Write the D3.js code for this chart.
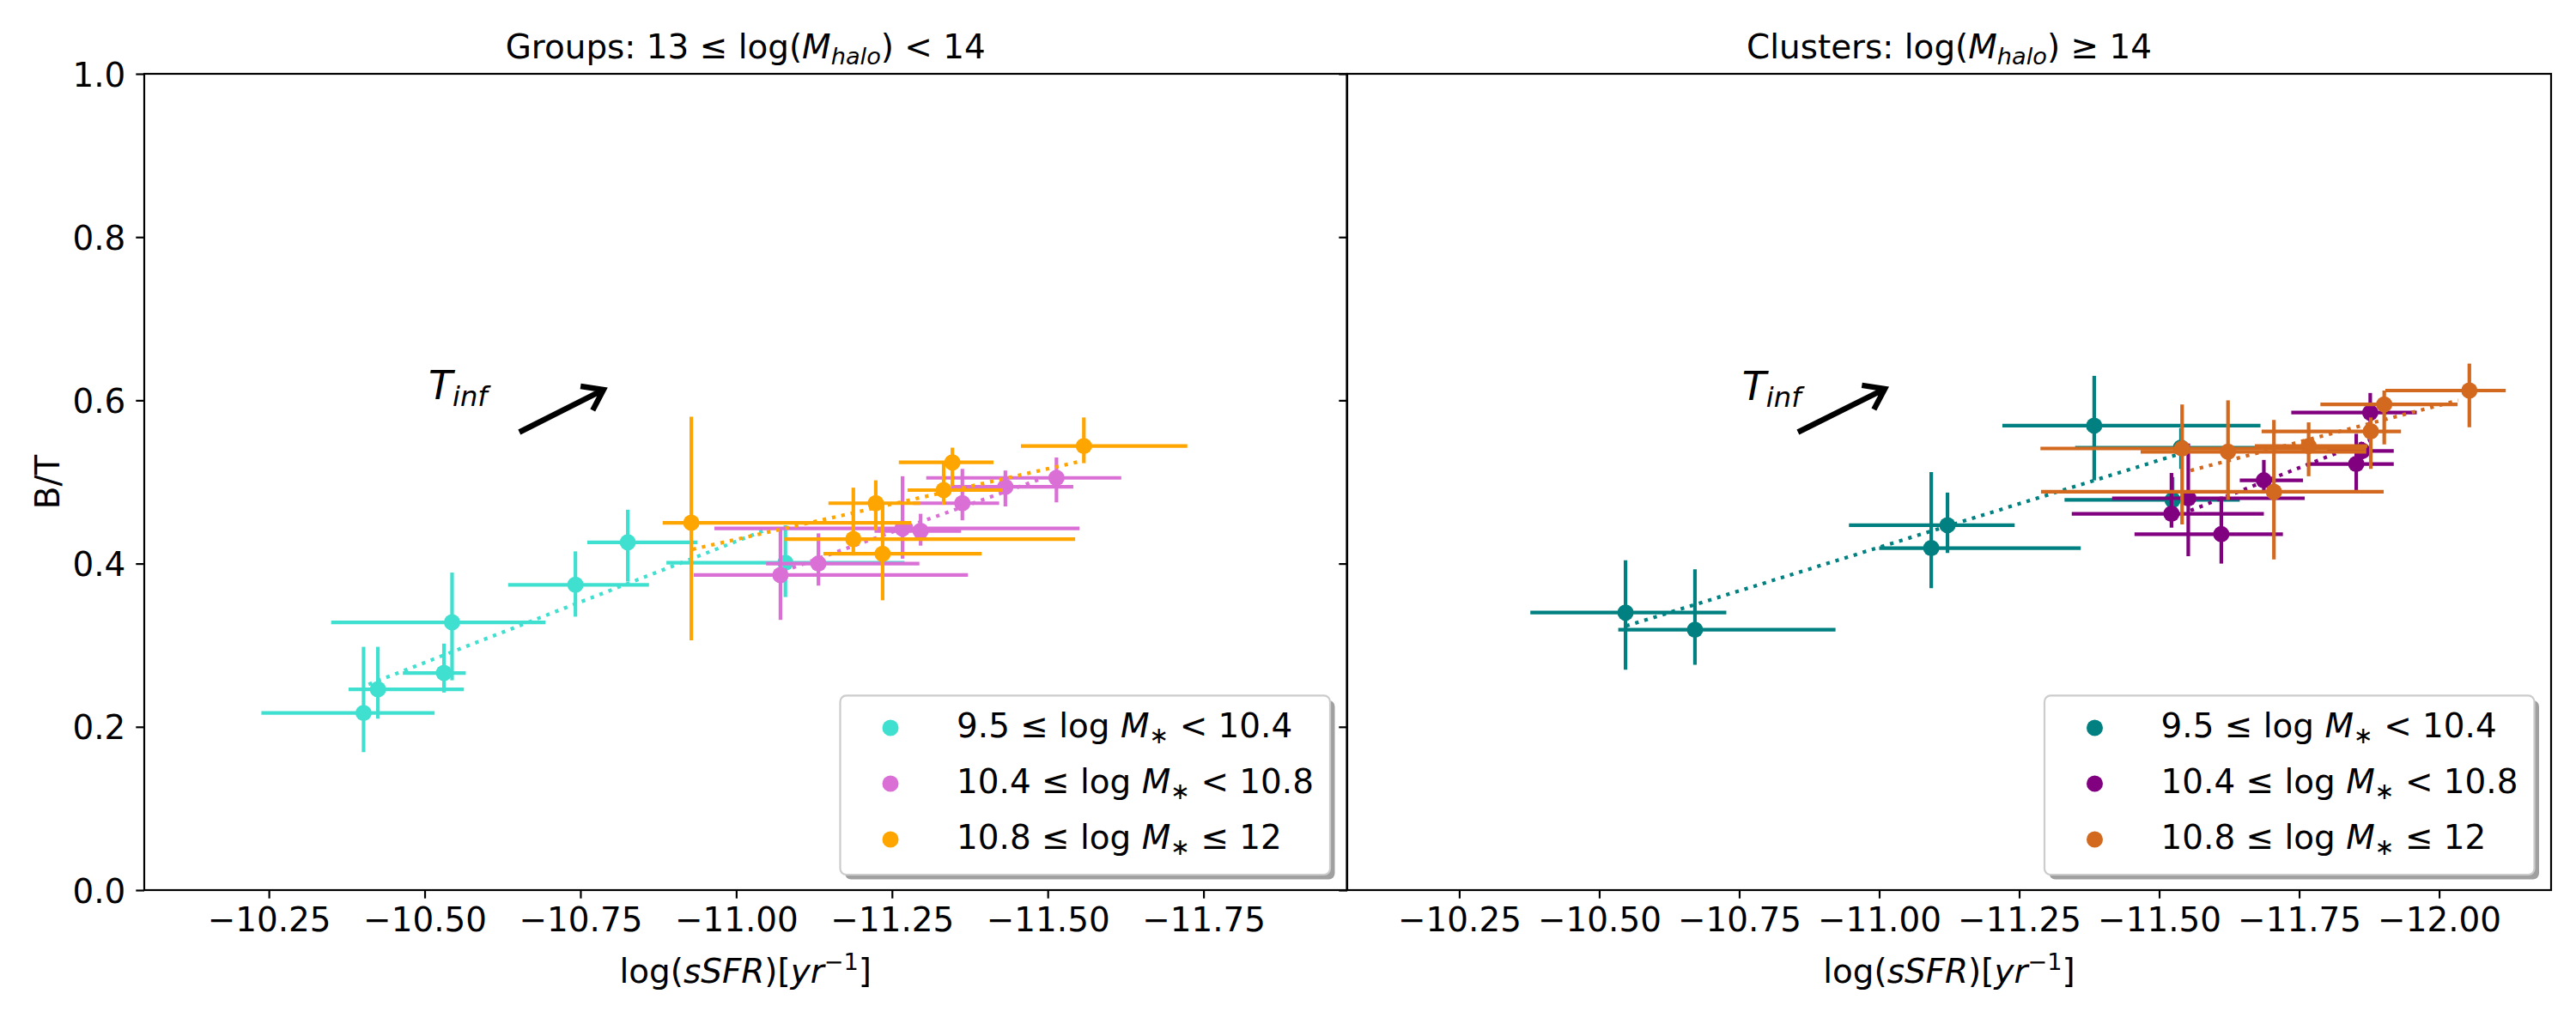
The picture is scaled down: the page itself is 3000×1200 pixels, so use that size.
<!DOCTYPE html>
<html>
<head>
<meta charset="utf-8">
<script src="https://cdn.jsdelivr.net/npm/d3@7"></script>
<style>
body { margin: 0; background: #fff; }
text { font-family: "DejaVu Sans", sans-serif; fill: #000; }
</style>
</head>
<body>
<svg id="fig" width="3000" height="1200"></svg>
<script>
// values
// each row: [x, y, x_left, x_right, y_low, y_high]
var groupsLow = [
  [-10.402, 0.217, -10.238, -10.516, 0.169, 0.298],
  [-10.425, 0.246, -10.378, -10.563, 0.210, 0.298],
  [-10.531, 0.266, -10.465, -10.566, 0.242, 0.302],
  [-10.544, 0.328, -10.350, -10.694, 0.257, 0.389],
  [-10.742, 0.374, -10.634, -10.860, 0.335, 0.415],
  [-10.826, 0.426, -10.761, -10.938, 0.378, 0.466],
  [-11.079, 0.401, -10.888, -11.270, 0.359, 0.447]
];
var groupsMid = [
  [-11.071, 0.386, -10.932, -11.372, 0.331, 0.444],
  [-11.132, 0.400, -11.048, -11.294, 0.373, 0.437],
  [-11.267, 0.443, -10.965, -11.551, 0.406, 0.507],
  [-11.296, 0.440, -11.222, -11.361, 0.422, 0.461],
  [-11.363, 0.474, -11.284, -11.422, 0.453, 0.516],
  [-11.432, 0.494, -11.345, -11.541, 0.470, 0.514],
  [-11.514, 0.505, -11.305, -11.618, 0.475, 0.530]
];
var groupsHigh = [
  [-10.928, 0.450, -10.882, -11.281, 0.306, 0.580],
  [-11.188, 0.430, -11.078, -11.544, 0.410, 0.493],
  [-11.224, 0.474, -11.148, -11.296, 0.441, 0.502],
  [-11.235, 0.412, -11.140, -11.394, 0.355, 0.473],
  [-11.333, 0.490, -11.275, -11.428, 0.472, 0.523],
  [-11.347, 0.524, -11.261, -11.413, 0.495, 0.542],
  [-11.558, 0.544, -11.457, -11.724, 0.523, 0.579]
];
var clustersLow = [
  [-10.547, 0.340, -10.377, -10.727, 0.270, 0.404],
  [-10.671, 0.319, -10.534, -10.922, 0.276, 0.393],
  [-11.093, 0.419, -11.000, -11.360, 0.370, 0.512],
  [-11.122, 0.447, -10.946, -11.242, 0.413, 0.487],
  [-11.384, 0.569, -11.220, -11.681, 0.502, 0.630],
  [-11.539, 0.542, -11.350, -11.800, 0.516, 0.566],
  [-11.524, 0.478, -11.331, -11.644, 0.467, 0.506]
];
var clustersMid = [
  [-11.522, 0.461, -11.344, -11.687, 0.444, 0.511],
  [-11.552, 0.480, -11.416, -11.760, 0.409, 0.547],
  [-11.611, 0.436, -11.456, -11.721, 0.400, 0.482],
  [-11.687, 0.502, -11.644, -11.757, 0.490, 0.527],
  [-11.852, 0.522, -11.768, -11.919, 0.490, 0.559],
  [-11.863, 0.538, -11.800, -11.919, 0.528, 0.549],
  [-11.877, 0.585, -11.736, -11.960, 0.561, 0.609]
];
var clustersHigh = [
  [-11.541, 0.541, -11.288, -11.870, 0.448, 0.595],
  [-11.623, 0.537, -11.467, -11.870, 0.478, 0.600],
  [-11.705, 0.488, -11.289, -11.901, 0.405, 0.576],
  [-11.767, 0.544, -11.671, -11.872, 0.507, 0.573],
  [-11.878, 0.562, -11.683, -11.932, 0.516, 0.579],
  [-11.902, 0.595, -11.788, -12.033, 0.546, 0.612],
  [-12.054, 0.612, -11.904, -12.119, 0.567, 0.645]
];

// dotted linear fits: [start, end]
var groupsLowFit = [[-10.41, 0.252], [-11.05, 0.442]];
var groupsMidFit = [[-11.076, 0.391], [-11.49, 0.504]];
var groupsHighFit = [[-10.93, 0.4175], [-11.557, 0.526]];
var clustersLowFit = [[-10.548, 0.3235], [-11.53, 0.533]];
var clustersMidFit = [[-11.556, 0.465], [-11.875, 0.551]];
var clustersHighFit = [[-11.556, 0.514], [-12.034, 0.600]];

// T_inf arrows [tail, tip] and label position
var groupsArrow = [[-10.652, 0.561], [-10.787, 0.613]];
var clustersArrow = [[-10.855, 0.561], [-11.010, 0.614]];
var groupsTinf = [-10.506, 0.601];
var clustersTinf = [-10.755, 0.600];

var groupsXTicks = [-10.25, -10.5, -10.75, -11.0, -11.25, -11.5, -11.75];
var clustersXTicks = [-10.25, -10.5, -10.75, -11.0, -11.25, -11.5, -11.75, -12.0];
var yTicks = [0, 0.2, 0.4, 0.6, 0.8, 1.0];

var groupColors = ["#40e0d0", "#da70d6", "#ffa500"];
var clusterColors = ["#008080", "#800080", "#d2691e"];

// legend: [lower, operator, upper]
var massBins = [["9.5", "<", "10.4"], ["10.4", "<", "10.8"], ["10.8", "≤", "12"]];

var groupsTitle = [{t: "Groups: 13 ≤ log("}, {t: "M", it: 1}, {t: "halo", it: 1, sub: 1}, {t: ") < 14"}];
var clustersTitle = [{t: "Clusters: log("}, {t: "M", it: 1}, {t: "halo", it: 1, sub: 1}, {t: ") ≥ 14"}];
var xLabel = [{t: "log("}, {t: "sSFR", it: 1}, {t: ")["}, {t: "yr", it: 1}, {t: "−1", sup: 1}, {t: "]"}];

// layout
var FS = 38.9;        // 14pt at 200 dpi
var axTop = 86, axBottom = 1037;
var lw = 4.2;         // 1.5pt

var svg = d3.select("#fig");

// writes mathtext-like pieces into a <text>
function richText(txt, parts, size) {
  var shift = 0;
  parts.forEach(function(p) {
    var s = txt.append("tspan").text(p.t);
    var want = 0;
    if (p.sub) want = size * 0.17;
    if (p.sup) want = -size * 0.38;
    if (p.it) s.attr("font-style", "italic");
    if (p.sub || p.sup) s.attr("font-size", size * 0.7);
    if (want !== shift) { s.attr("dy", want - shift); shift = want; }
  });
}

var panels = [
  {left: 168, right: 1568.5, domain: [-10.05, -11.98], ticks: groupsXTicks,
   series: [groupsLow, groupsMid, groupsHigh], fits: [groupsLowFit, groupsMidFit, groupsHighFit],
   colors: groupColors, title: groupsTitle, arrow: groupsArrow, tinf: groupsTinf, ylab: true},
  {left: 1569, right: 2971, domain: [-10.05, -12.20], ticks: clustersXTicks,
   series: [clustersLow, clustersMid, clustersHigh], fits: [clustersLowFit, clustersMidFit, clustersHighFit],
   colors: clusterColors, title: clustersTitle, arrow: clustersArrow, tinf: clustersTinf, ylab: false}
];

panels.forEach(function(p) {
  var x = d3.scaleLinear().domain(p.domain).range([p.left, p.right]);
  var y = d3.scaleLinear().domain([0, 1]).range([axBottom, axTop]);
  var g = svg.append("g");
  var cx = (p.left + p.right) / 2;

  // data: error bars, markers, dotted fit per bin
  p.series.forEach(function(rows, i) {
    var c = p.colors[i];
    var sg = g.append("g").attr("stroke", c).attr("stroke-width", lw);
    sg.selectAll("line.h").data(rows).join("line").attr("class", "h")
      .attr("x1", d => x(d[2])).attr("x2", d => x(d[3]))
      .attr("y1", d => y(d[1])).attr("y2", d => y(d[1]));
    sg.selectAll("line.v").data(rows).join("line").attr("class", "v")
      .attr("x1", d => x(d[0])).attr("x2", d => x(d[0]))
      .attr("y1", d => y(d[4])).attr("y2", d => y(d[5]));
    sg.selectAll("circle").data(rows).join("circle")
      .attr("cx", d => x(d[0])).attr("cy", d => y(d[1])).attr("r", 9.5)
      .attr("fill", c).attr("stroke", "none");
    g.append("path").datum(p.fits[i])
      .attr("d", d3.line().x(d => x(d[0])).y(d => y(d[1])))
      .attr("fill", "none").attr("stroke", c).attr("stroke-width", lw)
      .attr("stroke-dasharray", "4.2,6.9");
  });

  // T_inf arrow
  var a0 = [x(p.arrow[0][0]), y(p.arrow[0][1])], a1 = [x(p.arrow[1][0]), y(p.arrow[1][1])];
  var ang = Math.atan2(a1[1] - a0[1], a1[0] - a0[0]), hl = 27, ha = 0.62;
  var h1 = [a1[0] - hl * Math.cos(ang - ha), a1[1] - hl * Math.sin(ang - ha)];
  var h2 = [a1[0] - hl * Math.cos(ang + ha), a1[1] - hl * Math.sin(ang + ha)];
  g.append("path")
    .attr("d", "M" + a0 + "L" + a1 + "M" + h1 + "L" + a1 + "L" + h2)
    .attr("fill", "none").attr("stroke", "#000").attr("stroke-width", 6.5);
  richText(g.append("text").attr("x", x(p.tinf[0])).attr("y", y(p.tinf[1])).attr("font-size", 46),
    [{t: "T", it: 1}, {t: "inf", it: 1, sub: 1}], 46);

  // axes
  var xa = g.append("g").attr("transform", "translate(0," + axBottom + ")")
    .call(d3.axisBottom(x).tickValues(p.ticks).tickFormat(d3.format(".2f"))
      .tickSize(9.7).tickPadding(10.6).tickSizeOuter(0));
  var ya = g.append("g").attr("transform", "translate(" + p.left + ",0)")
    .call(d3.axisLeft(y).tickValues(yTicks).tickFormat(p.ylab ? d3.format(".1f") : "")
      .tickSize(9.7).tickPadding(12).tickSizeOuter(0));
  [xa, ya].forEach(function(a) {
    a.select(".domain").remove();
    a.selectAll("line").attr("stroke", "#000").attr("stroke-width", 2.2);
    a.selectAll("text").attr("font-size", FS).attr("font-family", "DejaVu Sans").attr("fill", "#000");
  });
  ya.selectAll("text").attr("dy", "0.36em");

  g.append("rect").attr("x", p.left).attr("y", axTop)
    .attr("width", p.right - p.left).attr("height", axBottom - axTop)
    .attr("fill", "none").attr("stroke", "#000").attr("stroke-width", 2.2);

  richText(g.append("text").attr("x", cx).attr("y", 68).attr("text-anchor", "middle").attr("font-size", FS),
    p.title, FS);
  richText(g.append("text").attr("x", cx).attr("y", 1145).attr("text-anchor", "middle").attr("font-size", FS),
    xLabel, FS);

  // legend (lower right, with shadow)
  var lw0 = 570.5, lh = 208.6;
  var lx = p.right - 19.5 - lw0, ly = axBottom - 18 - lh;
  var lg = g.append("g");
  lg.append("rect").attr("x", lx + 5.5).attr("y", ly + 5.5).attr("width", lw0).attr("height", lh)
    .attr("rx", 7).attr("fill", "#a0a0a0");
  lg.append("rect").attr("x", lx).attr("y", ly).attr("width", lw0).attr("height", lh)
    .attr("rx", 7).attr("fill", "#fff").attr("stroke", "#cccccc").attr("stroke-width", 2.2);
  massBins.forEach(function(b, i) {
    var ry = ly + 37.6 + i * 65;
    lg.append("circle").attr("cx", lx + 58.5).attr("cy", ry).attr("r", 9.5).attr("fill", p.colors[i]);
    richText(lg.append("text").attr("x", lx + 135.6).attr("y", ry + 11).attr("font-size", FS),
      [{t: b[0] + " ≤ log "}, {t: "M", it: 1}, {t: "∗", sub: 1}, {t: " " + b[1] + " " + b[2]}], FS);
  });
});

svg.append("text").attr("transform", "translate(55," + (axTop + axBottom) / 2 + ") rotate(-90)")
  .attr("text-anchor", "middle").attr("dominant-baseline", "central")
  .attr("font-size", FS).text("B/T");
</script>
</body>
</html>
